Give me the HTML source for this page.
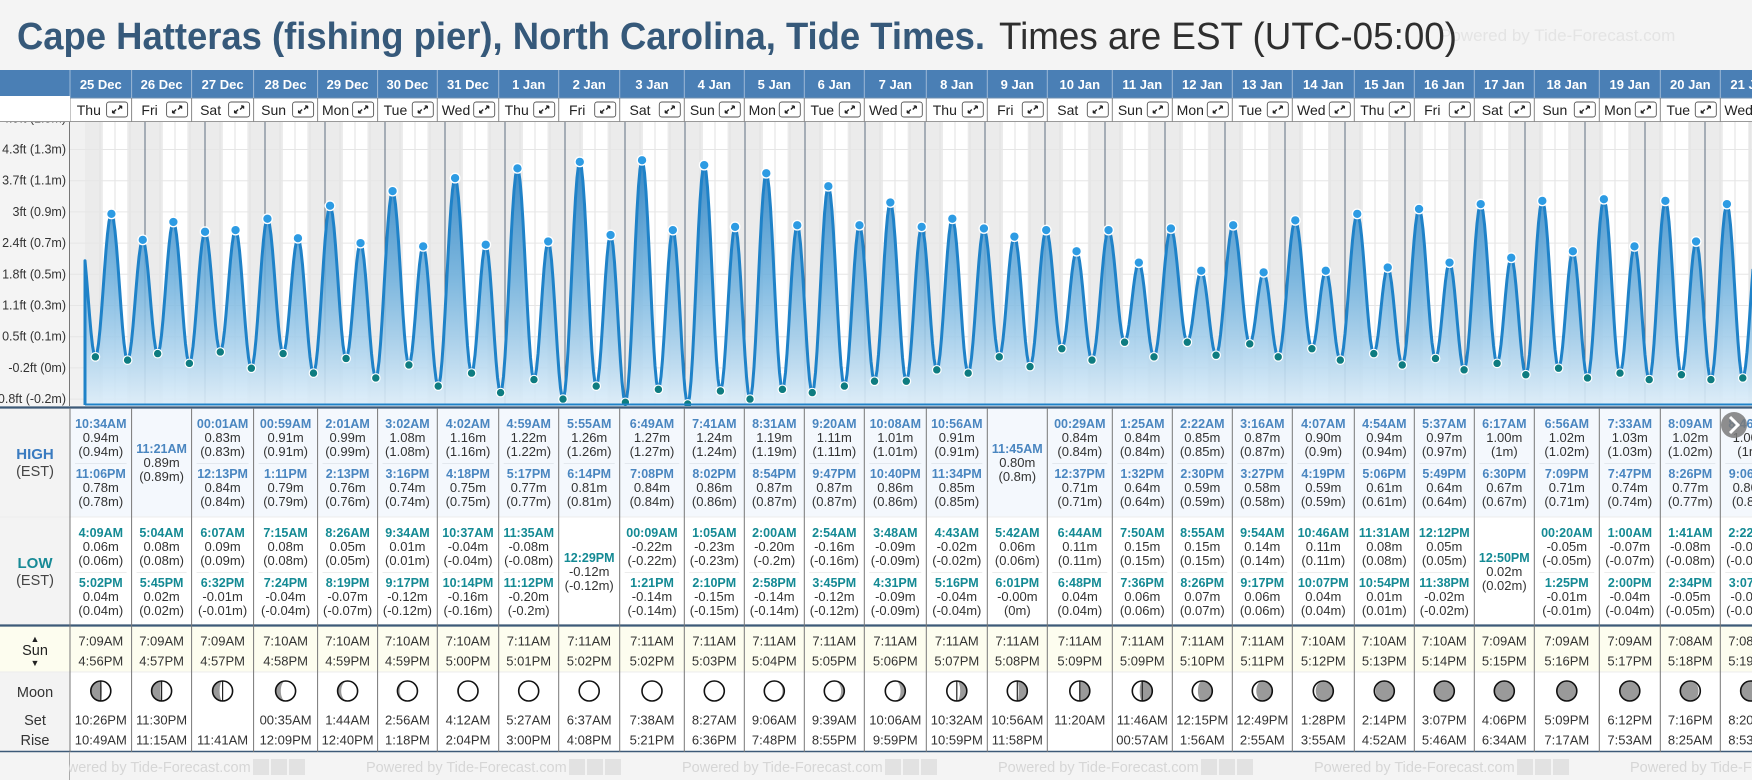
<!DOCTYPE html>
<html><head><meta charset="utf-8"><style>
html,body{margin:0;padding:0;background:#f4f4f4;}
svg{display:block;font-family:"Liberation Sans",sans-serif;}
</style></head><body>
<svg id="c" width="1752" height="780" viewBox="0 0 1752 780" xmlns="http://www.w3.org/2000/svg">
<defs>
<linearGradient id="fillg" gradientUnits="userSpaceOnUse" x1="0" y1="150" x2="0" y2="405">
<stop offset="0" stop-color="#2a7fc0" stop-opacity="0.95"/>
<stop offset="0.5" stop-color="#6aaedc" stop-opacity="0.85"/>
<stop offset="1" stop-color="#dcedf9" stop-opacity="0.9"/>
</linearGradient>
<clipPath id="chartclip"><rect x="70" y="122" width="1682" height="284"/></clipPath>
</defs>
<rect x="0" y="0" width="1752" height="780" fill="#f4f4f4"/>
<text x="1440" y="41" font-size="17" fill="#e4e4e4">Powered by Tide-Forecast.com</text>
<text x="17" y="49" font-size="38" font-weight="bold" fill="#36597a" textLength="968" lengthAdjust="spacingAndGlyphs">Cape Hatteras (fishing pier), North Carolina, Tide Times.</text>
<text x="999" y="49" font-size="38" fill="#2e2e2e" textLength="458" lengthAdjust="spacingAndGlyphs">Times are EST (UTC-05:00)</text>
<g id="g"></g>
</svg>
<script>
const dates=["25 Dec","26 Dec","27 Dec","28 Dec","29 Dec","30 Dec","31 Dec","1 Jan","2 Jan","3 Jan","4 Jan","5 Jan","6 Jan","7 Jan","8 Jan","9 Jan","10 Jan","11 Jan","12 Jan","13 Jan","14 Jan","15 Jan","16 Jan","17 Jan","18 Jan","19 Jan","20 Jan","21 Jan"];
const dayNames=["Thu","Fri","Sat","Sun","Mon","Tue","Wed","Thu","Fri","Sat","Sun","Mon","Tue","Wed","Thu","Fri","Sat","Sun","Mon","Tue","Wed","Thu","Fri","Sat","Sun","Mon","Tue","Wed"];
const highTimes=[["10:34AM","11:06PM"],["11:21AM"],["00:01AM","12:13PM"],["00:59AM","1:11PM"],["2:01AM","2:13PM"],["3:02AM","3:16PM"],["4:02AM","4:18PM"],["4:59AM","5:17PM"],["5:55AM","6:14PM"],["6:49AM","7:08PM"],["7:41AM","8:02PM"],["8:31AM","8:54PM"],["9:20AM","9:47PM"],["10:08AM","10:40PM"],["10:56AM","11:34PM"],["11:45AM"],["00:29AM","12:37PM"],["1:25AM","1:32PM"],["2:22AM","2:30PM"],["3:16AM","3:27PM"],["4:07AM","4:19PM"],["4:54AM","5:06PM"],["5:37AM","5:49PM"],["6:17AM","6:30PM"],["6:56AM","7:09PM"],["7:33AM","7:47PM"],["8:09AM","8:26PM"],["8:46AM","9:06PM"]];
const highVals=[[0.94,0.78],[0.89],[0.83,0.84],[0.91,0.79],[0.99,0.76],[1.08,0.74],[1.16,0.75],[1.22,0.77],[1.26,0.81],[1.27,0.84],[1.24,0.86],[1.19,0.87],[1.11,0.87],[1.01,0.86],[0.91,0.85],[0.80],[0.84,0.71],[0.84,0.64],[0.85,0.59],[0.87,0.58],[0.90,0.59],[0.94,0.61],[0.97,0.64],[1.00,0.67],[1.02,0.71],[1.03,0.74],[1.02,0.77],[1.00,0.80]];
const lowTimes=[["4:09AM","5:02PM"],["5:04AM","5:45PM"],["6:07AM","6:32PM"],["7:15AM","7:24PM"],["8:26AM","8:19PM"],["9:34AM","9:17PM"],["10:37AM","10:14PM"],["11:35AM","11:12PM"],["12:29PM"],["00:09AM","1:21PM"],["1:05AM","2:10PM"],["2:00AM","2:58PM"],["2:54AM","3:45PM"],["3:48AM","4:31PM"],["4:43AM","5:16PM"],["5:42AM","6:01PM"],["6:44AM","6:48PM"],["7:50AM","7:36PM"],["8:55AM","8:26PM"],["9:54AM","9:17PM"],["10:46AM","10:07PM"],["11:31AM","10:54PM"],["12:12PM","11:38PM"],["12:50PM"],["00:20AM","1:25PM"],["1:00AM","2:00PM"],["1:41AM","2:34PM"],["2:22AM","3:07PM"]];
const lowVals=[[0.06,0.04],[0.08,0.02],[0.09,-0.01],[0.08,-0.04],[0.05,-0.07],[0.01,-0.12],[-0.04,-0.16],[-0.08,-0.20],[-0.12],[-0.22,-0.14],[-0.23,-0.15],[-0.20,-0.14],[-0.16,-0.12],[-0.09,-0.09],[-0.02,-0.04],[0.06,-0.00],[0.11,0.04],[0.15,0.06],[0.15,0.07],[0.14,0.06],[0.11,0.04],[0.08,0.01],[0.05,-0.02],[0.02],[-0.05,-0.01],[-0.07,-0.04],[-0.08,-0.05],[-0.08,-0.07]];
const sunrise=["7:09AM","7:09AM","7:09AM","7:10AM","7:10AM","7:10AM","7:10AM","7:11AM","7:11AM","7:11AM","7:11AM","7:11AM","7:11AM","7:11AM","7:11AM","7:11AM","7:11AM","7:11AM","7:11AM","7:11AM","7:10AM","7:10AM","7:10AM","7:09AM","7:09AM","7:09AM","7:08AM","7:08AM"];
const sunset=["4:56PM","4:57PM","4:57PM","4:58PM","4:59PM","4:59PM","5:00PM","5:01PM","5:02PM","5:02PM","5:03PM","5:04PM","5:05PM","5:06PM","5:07PM","5:08PM","5:09PM","5:09PM","5:10PM","5:11PM","5:12PM","5:13PM","5:14PM","5:15PM","5:16PM","5:17PM","5:18PM","5:19PM"];
const moonSet=["10:26PM","11:30PM","","00:35AM","1:44AM","2:56AM","4:12AM","5:27AM","6:37AM","7:38AM","8:27AM","9:06AM","9:39AM","10:06AM","10:32AM","10:56AM","11:20AM","11:46AM","12:15PM","12:49PM","1:28PM","2:14PM","3:07PM","4:06PM","5:09PM","6:12PM","7:16PM","8:20PM"];
const moonRise=["10:49AM","11:15AM","11:41AM","12:09PM","12:40PM","1:18PM","2:04PM","3:00PM","4:08PM","5:21PM","6:36PM","7:48PM","8:55PM","9:59PM","10:59PM","11:58PM","","00:57AM","1:56AM","2:55AM","3:55AM","4:52AM","5:46AM","6:34AM","7:17AM","7:53AM","8:25AM","8:53AM"];
const moonLit=[0.45,0.55,0.65,0.74,0.82,0.89,0.95,0.98,1.0,0.99,0.96,0.91,0.84,0.76,0.67,0.57,0.47,0.37,0.28,0.2,0.12,0.06,0.02,0.0,0.01,0.04,0.09,0.16];
const moonWaxing=[1,1,1,1,1,1,1,1,1,0,0,0,0,0,0,0,0,0,0,0,0,0,0,0,1,1,1,1];
const priorHigh={hours:-1.6,value:0.78};
const tickVals=[-0.2,-0.008,0.184,0.376,0.568,0.76,0.952,1.144,1.336,1.528];
const tickLabels=["-0.8ft (-0.2m)","-0.2ft (0m)","0.5ft (0.1m)","1.1ft (0.3m)","1.8ft (0.5m)","2.4ft (0.7m)","3ft (0.9m)","3.7ft (1.1m)","4.3ft (1.3m)","4.9ft (1.5m)"];
const colBounds=[70,131.6,191.6,253.6,317.6,377.6,437.3,498.7,558.7,619.7,684.3,744.3,804.3,864.3,926.3,987.3,1047.3,1112.3,1172.3,1232.3,1292.3,1354.3,1414.3,1474.3,1534.3,1599.3,1660.3,1720.3,1781];

const NS="http://www.w3.org/2000/svg";
const G=document.getElementById('g');
function mk(tag,attrs,parent,txt){const e=document.createElementNS(NS,tag);for(const k in attrs)e.setAttribute(k,attrs[k]);if(txt!==undefined)e.textContent=txt;(parent||G).appendChild(e);return e;}
function parseT(s){const m=/(\d+):(\d+)(AM|PM)/.exec(s);let h=+m[1];const mi=+m[2];if(m[3]==="PM"&&h!==12)h+=12;if(m[3]==="AM"&&h===12)h=0;return h+mi/60;}
const X0=85,PXD=60;
function xOfH(hours){return X0+hours/24*PXD;}
function yOf(m){return 366.6-162.5*m;}
const CT=122,CB=405;

// header
let e;
e=mk('rect',{x:0,y:70,width:1752,height:28,fill:'#4a7fb5'});

e=mk('rect',{x:0,y:98,width:1752,height:24,fill:'#ffffff'});

mk('line',{x1:0,y1:98,x2:1752,y2:98,stroke:'#6f8fb0','stroke-width':1});
mk('line',{x1:0,y1:121.5,x2:1752,y2:121.5,stroke:'#999','stroke-width':1});
for(let i=0;i<dates.length;i++){
  const l=colBounds[i],r=colBounds[i+1],cx=(l+r)/2;
  mk('line',{x1:l,y1:70,x2:l,y2:98,stroke:'#9cb8d6','stroke-width':1});
  mk('line',{x1:l,y1:98,x2:l,y2:122,stroke:'#888','stroke-width':1});
  e=mk('text',{x:cx,y:89,'text-anchor':'middle','font-size':13,'font-weight':'bold',fill:'#fff'},G,dates[i]);
  
  e=mk('text',{x:l+(r-l-24)/2,y:115,'text-anchor':'middle','font-size':14,fill:'#222'},G,dayNames[i]);
  
  const bx=r-25;
  const gb=mk('g',{});
  
  mk('rect',{x:bx,y:102,width:21,height:15,rx:2.5,fill:'#fff',stroke:'#555','stroke-width':0.9},gb);
  mk('path',{d:`M${bx+6} ${bx?113:0} L${bx+9.5} ${109.5} M${bx+6} 113 l0 -2.6 M${bx+6} 113 l2.6 0 M${bx+15} 106 L${bx+11.5} 109.5 M${bx+15} 106 l-2.6 0 M${bx+15} 106 l0 2.6`,stroke:'#222','stroke-width':1.3,fill:'none'},gb);
}

// chart area
e=mk('rect',{x:0,y:122,width:70,height:286,fill:'#f4f4f4'});

const cg=mk('g',{'clip-path':'url(#chartclip)'});

mk('rect',{x:70,y:CT,width:1682,height:CB-CT,fill:'#f1f1f1'},cg);
// day/night
for(let i=0;i<dates.length;i++){
  const base=i*24;
  const sr=xOfH(base+parseT(sunrise[i])),ss=xOfH(base+parseT(sunset[i]));
  e=mk('rect',{x:xOfH(base),y:CT,width:sr-xOfH(base),height:CB-CT,fill:'#ebebeb'},cg);
  
  e=mk('rect',{x:sr,y:CT,width:ss-sr,height:CB-CT,fill:'#ffffff'},cg);
  
  e=mk('rect',{x:ss,y:CT,width:xOfH(base+24)-ss,height:CB-CT,fill:'#ebebeb'},cg);
  
  for(const hh of [6,12,18]){
    mk('line',{x1:xOfH(base+hh),y1:CT,x2:xOfH(base+hh),y2:CB,stroke:'#e2e2e2','stroke-width':1},cg);
  }
}
// horizontal grid
for(let k=0;k<tickVals.length;k++){
  const y=yOf(tickVals[k]);
  e=mk('line',{x1:70,y1:y,x2:1752,y2:y,stroke:'#e6e6e6','stroke-width':1},cg);
  
}
// midnight lines
for(let i=1;i<=dates.length;i++){
  e=mk('line',{x1:xOfH(i*24),y1:CT,x2:xOfH(i*24),y2:CB,stroke:'#5f6f80','stroke-width':1},cg);
  
}
// extremes
const ext=[{h:priorHigh.hours,v:priorHigh.value,type:'H'}];
for(let i=0;i<dates.length;i++){
  highTimes[i].forEach((t,j)=>ext.push({h:i*24+parseT(t),v:highVals[i][j],type:'H'}));
  lowTimes[i].forEach((t,j)=>ext.push({h:i*24+parseT(t),v:lowVals[i][j],type:'L'}));
}
ext.sort((a,b)=>a.h-b.h);
function tideAt(h){
  for(let k=0;k<ext.length-1;k++){
    if(h>=ext[k].h&&h<=ext[k+1].h){const f=(h-ext[k].h)/(ext[k+1].h-ext[k].h);return ext[k].v+(ext[k+1].v-ext[k].v)*(1-Math.cos(Math.PI*f))/2;}
  }
  return ext[ext.length-1].v;
}
let pts=[];
for(let x=X0;x<=1754;x+=1.5){const h=(x-X0)/PXD*24;pts.push([x,yOf(tideAt(h))]);}
let d='M'+pts.map(p=>p[0].toFixed(1)+' '+p[1].toFixed(1)).join(' L');
e=mk('path',{d:d+` L${pts[pts.length-1][0]} ${CB} L${X0} ${CB} Z`,fill:'url(#fillg)'},cg);

e=mk('path',{d:`M${X0} ${CB} L`+d.slice(1),fill:'none',stroke:'#1f82c8','stroke-width':3,'stroke-linejoin':'round'},cg);

for(const p of ext){
  const x=xOfH(p.h);if(x<X0||x>1760)continue;
  if(p.type==='H'){
    e=mk('circle',{cx:x,cy:yOf(p.v),r:4.8,fill:'#2d9be3',stroke:'#fff','stroke-width':1.3},cg);
    
  }else{
    e=mk('circle',{cx:x,cy:yOf(p.v),r:4.3,fill:'#0e7c80',stroke:'#fff','stroke-width':1.2},cg);
    
  }
}
mk('line',{x1:X0,y1:404.5,x2:1752,y2:404.5,stroke:'#1f82c8','stroke-width':2});
mk('line',{x1:69.5,y1:122,x2:69.5,y2:406,stroke:'#777','stroke-width':1});
for(let k=0;k<tickLabels.length;k++){
  e=mk('text',{x:66,y:yOf(tickVals[k])+4,'text-anchor':'end','font-size':12.5,fill:'#333'},G,tickLabels[k]);
  
}
mk('rect',{x:0,y:96,width:70,height:26,fill:'#fff'});
mk('line',{x1:0,y1:121.5,x2:70,y2:121.5,stroke:'#999','stroke-width':1});

// table
e=mk('rect',{x:0,y:408,width:1752,height:109,fill:'#f4f8fd'});

e=mk('rect',{x:0,y:517,width:1752,height:108,fill:'#ffffff'});

e=mk('rect',{x:0,y:626,width:1752,height:46,fill:'#fdfdef'});

e=mk('rect',{x:0,y:672,width:1752,height:80,fill:'#ffffff'});

mk('rect',{x:0,y:408,width:70,height:217,fill:'#f3f3f3'});
mk('rect',{x:0,y:672,width:70,height:80,fill:'#f3f3f3'});
mk('line',{x1:0,y1:517,x2:1752,y2:517,stroke:'#ececec','stroke-width':1});
mk('line',{x1:0,y1:672,x2:1752,y2:672,stroke:'#ececec','stroke-width':1});
mk('line',{x1:0,y1:407.5,x2:1752,y2:407.5,stroke:'#3d5a78','stroke-width':2.2});
mk('line',{x1:0,y1:625.5,x2:1752,y2:625.5,stroke:'#3d5a78','stroke-width':2.2});
mk('line',{x1:0,y1:751.5,x2:1752,y2:751.5,stroke:'#3d5a78','stroke-width':1.5});
// left labels
function lbl(x,y,t,sz,col,bold,name){const el=mk('text',{x:x,y:y,'text-anchor':'middle','font-size':sz,fill:col,'font-weight':bold?'bold':'normal'},G,t);return el;}
lbl(35,459,"HIGH",15,'#3a7bc0',true,'high-row-label');
lbl(35,476,"(EST)",14.5,'#444',false,'high-tz-label');
lbl(35,568,"LOW",15,'#178a96',true,'low-row-label');
lbl(35,585,"(EST)",14.5,'#444',false,'low-tz-label');
lbl(35,642,"▲",9,'#222',false,'sun-up-icon');
lbl(35,655,"Sun",14.5,'#222',false,'sun-row-label');
lbl(35,666,"▼",9,'#222',false,'sun-down-icon');
lbl(35,697,"Moon",14.5,'#333',false,'moon-row-label');
lbl(35,725,"Set",14.5,'#333',false,'moonset-label');
lbl(35,745,"Rise",14.5,'#333',false,'moonrise-label');

function fmtParen(v){let s=(+v.toFixed(2)).toString();if(s==="-0")s="0";return "("+s+"m)";}
function fmtV(v){if(v===0&&1/v<0)return "-0.00m";return v.toFixed(2)+"m";}
for(let i=0;i<dates.length;i++){
  const l=colBounds[i],r=colBounds[i+1],cx=(l+r)/2;
  mk('line',{x1:l,y1:408,x2:l,y2:752,stroke:'#777','stroke-width':1});
  // highs
  const hb=highTimes[i].length===2?[428,478]:[453];
  highTimes[i].forEach((t,j)=>{
    const y=hb[j];
    lbl(cx,y,t,12.5,'#4a86c0',true,'high-tide-time');
    lbl(cx,y+14,fmtV(highVals[i][j]),13,'#333',false,'high-tide-height');
    lbl(cx,y+28,fmtParen(highVals[i][j]),13,'#333',false,'high-tide-height-alt');
  });
  if(highTimes[i].length===2)mk('line',{x1:l+5,y1:463.5,x2:r-5,y2:463.5,stroke:'#e3e8ee','stroke-width':1});
  const lb=lowTimes[i].length===2?[537,587]:[562];
  lowTimes[i].forEach((t,j)=>{
    const y=lb[j];
    lbl(cx,y,t,12.5,'#148a94',true,'low-tide-time');
    const v=(i===15&&j===1)?-0:lowVals[i][j];
    lbl(cx,y+14,(i===15&&j===1)?"-0.00m":fmtV(v),13,'#333',false,'low-tide-height');
    lbl(cx,y+28,fmtParen(lowVals[i][j]),13,'#333',false,'low-tide-height-alt');
  });
  if(lowTimes[i].length===2)mk('line',{x1:l+5,y1:572.5,x2:r-5,y2:572.5,stroke:'#ececec','stroke-width':1});
  lbl(cx,645.5,sunrise[i],13,'#333',false,'sunrise-time');
  lbl(cx,665.5,sunset[i],13,'#333',false,'sunset-time');
  // moon icon
  const cy=691,R=10,k=moonLit[i];
  const mg=mk('g',{});
  
  mk('circle',{cx:cx,cy:cy,r:R,fill:'#9a9a9a'},mg);
  if(k>0.005){
    const rx=Math.max(0.01,R*Math.abs(2*k-1));
    let s1,s2;
    if(moonWaxing[i]){s1=1;s2=k>0.5?1:0;}else{s1=0;s2=k>0.5?0:1;}
    mk('path',{d:`M${cx} ${cy-R} A${R} ${R} 0 0 ${s1} ${cx} ${cy+R} A${rx} ${R} 0 0 ${s2} ${cx} ${cy-R} Z`,fill:'#fff'},mg);
    mk('line',{x1:cx,y1:cy-R,x2:cx,y2:cy+R,stroke:'#222','stroke-width':k>0.3&&k<0.7?1.2:0},mg);
  }
  mk('circle',{cx:cx,cy:cy,r:R,fill:'none',stroke:'#111','stroke-width':1.6},mg);
  if(moonSet[i])lbl(cx,724.5,moonSet[i],13,'#333',false,'moonset-time');
  if(moonRise[i])lbl(cx,744.5,moonRise[i],13,'#333',false,'moonrise-time');
}
// next arrow
const na=mk('g',{});

mk('circle',{cx:1734,cy:425,r:13,fill:'#7a7a7a','fill-opacity':0.85},na);
mk('path',{d:'M1730 417 L1738 425 L1730 433',stroke:'#fff','stroke-width':3,fill:'none'},na);
// footer
e=mk('rect',{x:0,y:752.5,width:1752,height:27.5,fill:'#f4f4f4'});

mk('line',{x1:69.5,y1:752,x2:69.5,y2:780,stroke:'#aaa','stroke-width':1});
for(let fx=50;fx<1752;fx+=316){
  e=mk('text',{x:fx,y:772,'font-size':14.5,fill:'#d6d6d6'},G,"Powered by Tide-Forecast.com");
  
  for(let q=0;q<3;q++)mk('rect',{x:fx+203+q*18,y:759,width:16,height:16,fill:'#e2e2e2'});
}
mk('rect',{x:0,y:752.5,width:69,height:27.5,fill:'#f4f4f4'});
</script>
</body></html>
